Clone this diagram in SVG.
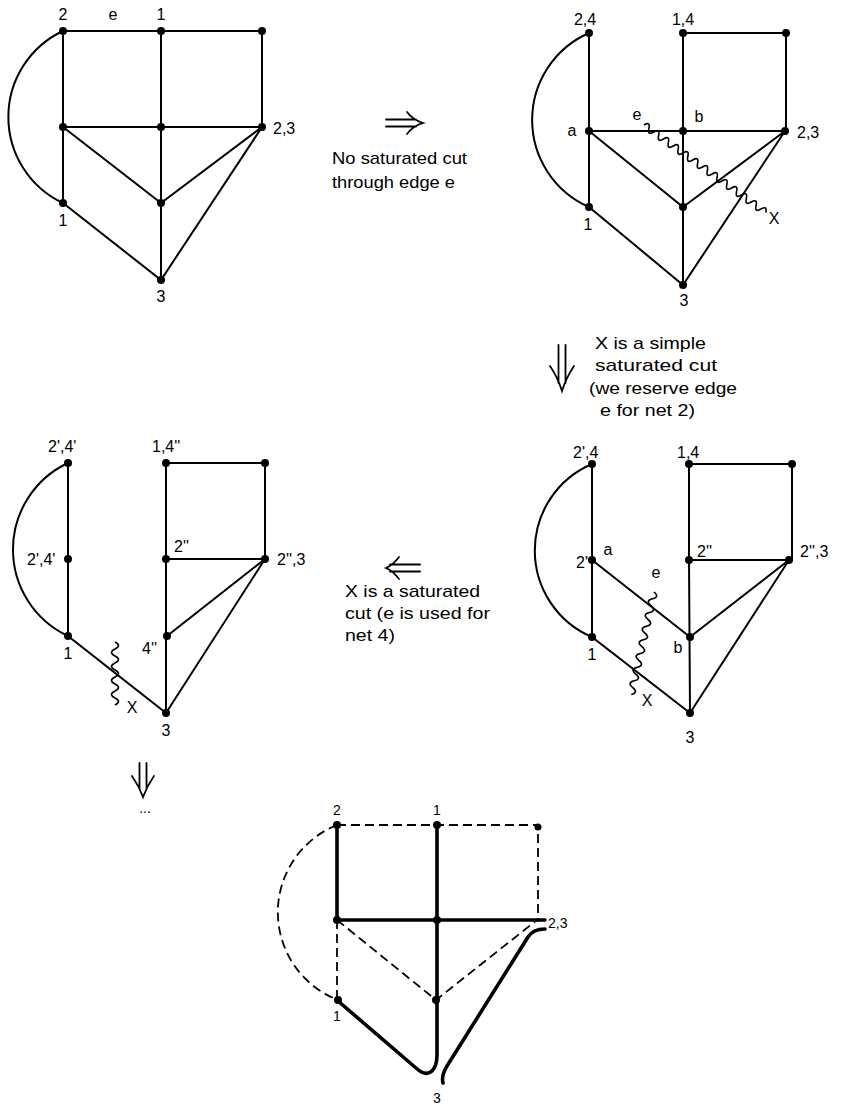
<svg xmlns="http://www.w3.org/2000/svg" width="841" height="1106" viewBox="0 0 841 1106">
<style>
.e{stroke:#000;stroke-width:2;fill:none;stroke-linecap:round}
.w{stroke:#000;stroke-width:1.6;fill:none}
.k{stroke:#000;stroke-width:3.6;fill:none;stroke-linecap:round;stroke-linejoin:round}
.d{stroke:#000;stroke-width:1.8;fill:none;stroke-dasharray:9 5}
.n{fill:#000}
.l{font-family:"Liberation Sans",Arial,sans-serif;font-size:16px;fill:#000}
.s{font-family:"Liberation Sans",Arial,sans-serif;font-size:14px;fill:#000}
.t{font-family:"Liberation Sans",Arial,sans-serif;font-size:17px;fill:#000}
.a{stroke:#000;stroke-width:1.8;fill:none;stroke-linecap:round}
</style>

<!-- Diagram 1 -->
<g id="d1-edges">
<path class="e" d="M63,31 H262 M63,127 H262 M63,31 V203 M161,31 V280 M262,31 V127 M63,127 L161,203 L262,127 M63,203 L161,280 L262,127"/>
<path class="e" d="M63,31 A95,95 0 0 0 63,203"/>
</g>
<g id="d1-n2"><circle class="n" cx="63" cy="31" r="4"/><text class="l" x="63" y="20" text-anchor="middle">2</text></g>
<g id="d1-n1"><circle class="n" cx="161" cy="31" r="4"/><text class="l" x="161" y="20" text-anchor="middle">1</text></g>
<g id="d1-tr"><circle class="n" cx="262" cy="31" r="4"/></g>
<g id="d1-ml"><circle class="n" cx="63" cy="127" r="4"/></g>
<g id="d1-mc"><circle class="n" cx="161" cy="127" r="4"/></g>
<g id="d1-mr"><circle class="n" cx="262" cy="127" r="4"/><text class="l" x="273" y="134">2,3</text></g>
<g id="d1-l1"><circle class="n" cx="63" cy="203" r="4"/><text class="l" x="63" y="226" text-anchor="middle">1</text></g>
<g id="d1-v"><circle class="n" cx="161" cy="203" r="4"/></g>
<g id="d1-b3"><circle class="n" cx="161" cy="280" r="4"/><text class="l" x="161" y="302" text-anchor="middle">3</text></g>
<text class="l" x="113" y="20" text-anchor="middle">e</text>

<!-- Arrow right + text -->
<g id="arrow1">
<path class="a" d="M386,119.5 H416 M386,126.5 H416 M407,112 Q413,120 423,123 Q413,126 407,134"/>
<text class="t" x="332" y="164" textLength="135" lengthAdjust="spacingAndGlyphs">No saturated cut</text>
<text class="t" x="332" y="188" textLength="123" lengthAdjust="spacingAndGlyphs">through edge e</text>
</g>

<!-- Diagram 2 -->
<g id="d2-edges">
<path class="e" d="M589,33 V207 M683,33 H786 V131 M683,33 V285 M589,131 H785 M589,131 L683,207 L785,131 M589,207 L683,285 L785,131"/>
<path class="e" d="M589,33 A95,95 0 0 0 589,207"/>
<path class="w" transform="translate(644,125) rotate(35.7)" d="M0,0 q3,-7 6,0 t6,0 t6,0 t6,0 t6,0 t6,0 t6,0 t6,0 t6,0 t6,0 t6,0 t6,0 t6,0 t6,0 t6,0 t6,0 t6,0 t6,0 t6,0 t6,0 t6,0 t6,0 t6,0 t6,0 t6,0"/>
</g>
<g id="d2-24"><circle class="n" cx="589" cy="33" r="4"/><text class="l" x="585" y="25" text-anchor="middle">2,4</text></g>
<g id="d2-14"><circle class="n" cx="683" cy="33" r="4"/><text class="l" x="683" y="25" text-anchor="middle">1,4</text></g>
<g id="d2-tr"><circle class="n" cx="786" cy="33" r="4"/></g>
<g id="d2-a"><circle class="n" cx="589" cy="131" r="4"/><text class="l" x="572" y="136" text-anchor="middle">a</text></g>
<g id="d2-b"><circle class="n" cx="683" cy="131" r="4"/><text class="l" x="699" y="122" text-anchor="middle">b</text></g>
<g id="d2-23"><circle class="n" cx="785" cy="131" r="4"/><text class="l" x="797" y="138">2,3</text></g>
<g id="d2-1"><circle class="n" cx="589" cy="207" r="4"/><text class="l" x="588" y="230" text-anchor="middle">1</text></g>
<g id="d2-v"><circle class="n" cx="683" cy="207" r="4"/></g>
<g id="d2-3"><circle class="n" cx="683" cy="285" r="4"/><text class="l" x="684" y="306" text-anchor="middle">3</text></g>
<text class="l" x="637" y="120" text-anchor="middle">e</text>
<text class="l" x="774" y="224" text-anchor="middle">X</text>

<!-- Arrow down + text -->
<g id="arrow2">
<path class="a" d="M558.5,345 V383 M565.5,345 V383 M550,366 Q558,378 562,391 Q566,378 574,366"/>
<text class="t" x="595" y="349" textLength="111" lengthAdjust="spacingAndGlyphs">X is a simple</text>
<text class="t" x="595" y="371" textLength="122" lengthAdjust="spacingAndGlyphs">saturated cut</text>
<text class="t" x="589" y="394" textLength="148" lengthAdjust="spacingAndGlyphs">(we reserve edge</text>
<text class="t" x="600" y="416" textLength="95" lengthAdjust="spacingAndGlyphs">e for net 2)</text>
</g>

<!-- Diagram 3 -->
<g id="d3-edges">
<path class="e" d="M68,463 V636 L166,713 M166,463 H265 V559 M166,463 V713 M166,559 H265 M167,636 L265,559 L166,713"/>
<path class="e" d="M68,463 A95.5,95.5 0 0 0 68,636"/>
<path class="w" transform="translate(115,642) rotate(90)" d="M0,0 q3.5,-7 7,0 t7,0 t7,0 t7,0 t7,0 t7,0 t7,0 t7,0 t7,0"/>
</g>
<g id="d3-top"><circle class="n" cx="68" cy="463" r="4"/><text class="l" x="48" y="452">2',4'</text></g>
<g id="d3-mid"><circle class="n" cx="68" cy="559" r="4"/><text class="l" x="27" y="565">2',4'</text></g>
<g id="d3-1"><circle class="n" cx="68" cy="636" r="4"/><text class="l" x="68" y="659" text-anchor="middle">1</text></g>
<g id="d3-14"><circle class="n" cx="166" cy="463" r="4"/><text class="l" x="152" y="452">1,4''</text></g>
<g id="d3-tr"><circle class="n" cx="265" cy="463" r="4"/></g>
<g id="d3-2"><circle class="n" cx="166" cy="559" r="4"/><text class="l" x="174" y="552">2''</text></g>
<g id="d3-23"><circle class="n" cx="265" cy="559" r="4"/><text class="l" x="277" y="565">2'',3</text></g>
<g id="d3-4"><circle class="n" cx="167" cy="636" r="4"/><text class="l" x="142" y="654">4''</text></g>
<g id="d3-3"><circle class="n" cx="166" cy="713" r="4"/><text class="l" x="166" y="736" text-anchor="middle">3</text></g>
<text class="l" x="132" y="713" text-anchor="middle">X</text>

<!-- Arrow left + text -->
<g id="arrow3">
<path class="a" d="M390,564.5 H420 M390,571.5 H420 M399,557 Q393,565 386,568 Q393,571 399,579"/>
<text class="t" x="345" y="597" textLength="135" lengthAdjust="spacingAndGlyphs">X is a saturated</text>
<text class="t" x="345" y="619" textLength="145" lengthAdjust="spacingAndGlyphs">cut (e is used for</text>
<text class="t" x="345" y="641" textLength="50" lengthAdjust="spacingAndGlyphs">net 4)</text>
</g>

<!-- Diagram 4 -->
<g id="d4-edges">
<path class="e" d="M592,464 V637 L690,713 M689,464 H792 V560 M689,464 V560 L690,713 M689,560 H789 M592,560 L690,637 L789,560 L690,713"/>
<path class="e" d="M592,464 A94,94 0 0 0 592,637"/>
<path class="w" transform="translate(654,592) rotate(102.5)" d="M0,0 q3.5,-7 7,0 t7,0 t7,0 t7,0 t7,0 t7,0 t7,0 t7,0 t7,0 t7,0 t7,0 t7,0 t7,0 t7,0 t7,0"/>
</g>
<g id="d4-top"><circle class="n" cx="592" cy="464" r="4"/><text class="l" x="573" y="458">2',4</text></g>
<g id="d4-a"><circle class="n" cx="592" cy="560" r="4"/><text class="l" x="608" y="555" text-anchor="middle">a</text><text class="l" x="576" y="568">2'</text></g>
<g id="d4-1"><circle class="n" cx="592" cy="637" r="4"/><text class="l" x="592" y="660" text-anchor="middle">1</text></g>
<g id="d4-14"><circle class="n" cx="689" cy="464" r="4"/><text class="l" x="677" y="458">1,4</text></g>
<g id="d4-tr"><circle class="n" cx="792" cy="464" r="4"/></g>
<g id="d4-2"><circle class="n" cx="689" cy="560" r="4"/><text class="l" x="697" y="557">2''</text></g>
<g id="d4-23"><circle class="n" cx="789" cy="560" r="4"/><text class="l" x="800" y="557">2'',3</text></g>
<g id="d4-b"><circle class="n" cx="690" cy="637" r="4"/><text class="l" x="678" y="653" text-anchor="middle">b</text></g>
<g id="d4-3"><circle class="n" cx="690" cy="713" r="4"/><text class="l" x="690" y="743" text-anchor="middle">3</text></g>
<text class="l" x="656" y="578" text-anchor="middle">e</text>
<text class="l" x="647" y="706" text-anchor="middle">X</text>

<!-- Arrow down bottom-left -->
<g id="arrow4">
<path class="a" d="M139.5,763 V789 M146.5,763 V789 M132,776 Q139,786 143,797 Q147,786 154,776"/>
<text class="s" x="145" y="813" text-anchor="middle">...</text>
</g>

<!-- Diagram 5 -->
<g id="d5-edges">
<path class="d" d="M337,825 H538 V920 M337,920 V1000 M337,920 L436,1000 L537,920"/>
<path class="d" d="M337,825 A94,94 0 0 0 338,1000"/>
<path class="k" d="M337,825 V920 M337,920 H545"/>
<path class="k" d="M338,1001 L416,1068 Q426,1077 432,1071 Q437,1066 437,1055 V825"/>
<path class="k" d="M545,929 Q533,929 528,937 L447,1066 Q441,1076 443,1083"/>
</g>
<g id="d5-2"><circle class="n" cx="337" cy="825" r="4"/><text class="s" x="337" y="815" text-anchor="middle">2</text></g>
<g id="d5-1t"><circle class="n" cx="437" cy="825" r="4"/><text class="s" x="437" y="815" text-anchor="middle">1</text></g>
<g id="d5-tr"><circle class="n" cx="538" cy="827" r="3.5"/></g>
<g id="d5-ml"><circle class="n" cx="337" cy="920" r="4"/></g>
<g id="d5-mc"><circle class="n" cx="437" cy="920" r="4"/></g>
<g id="d5-23"><text class="s" x="548" y="928">2,3</text></g>
<g id="d5-1"><circle class="n" cx="338" cy="1000" r="4"/><text class="s" x="337" y="1021" text-anchor="middle">1</text></g>
<g id="d5-v"><circle class="n" cx="436" cy="1000" r="4"/></g>
<g id="d5-3"><text class="s" x="437" y="1103" text-anchor="middle">3</text></g>
</svg>
